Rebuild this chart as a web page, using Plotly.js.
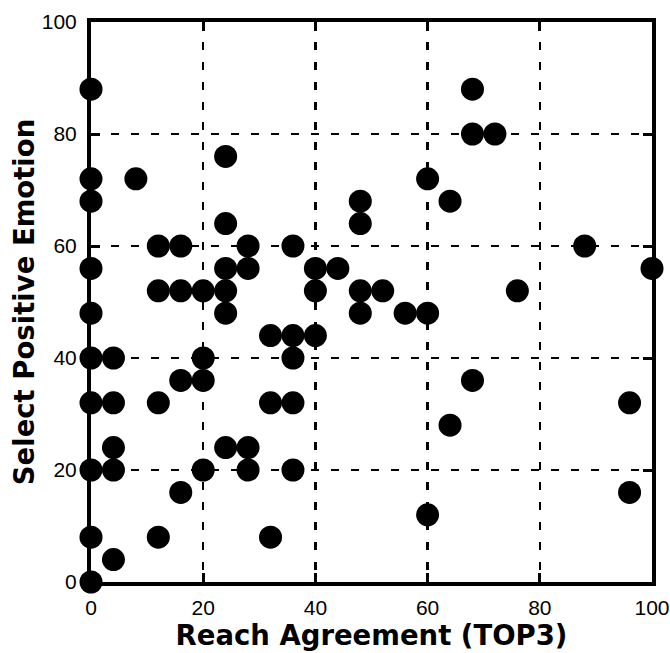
<!DOCTYPE html>
<html>
<head>
<meta charset="utf-8">
<script src="https://cdn.plot.ly/plotly-3.0.1.min.js"></script>
<style>html,body{margin:0;padding:0;background:#fff;}#chart{width:670px;height:653px;}</style>
</head>
<body>
<div id="chart"></div>
<script>
// Reach Agreement (TOP3) percentage for each item
var reachAgreement = [
  0, 0, 0, 0, 0, 0, 0, 0, 0, 0,
  4, 4, 4, 4, 4,
  8,
  12, 12, 12, 12,
  16, 16, 16, 16,
  20, 20, 20, 20,
  24, 24, 24, 24, 24, 24,
  28, 28, 28, 28,
  32, 32, 32,
  36, 36, 36, 36, 36,
  40, 40, 40,
  44,
  48, 48, 48, 48,
  52,
  56,
  60, 60, 60,
  64, 64,
  68, 68, 68,
  72,
  76,
  88,
  96, 96,
  100
];
// Select Positive Emotion percentage for each item
var positiveEmotion = [
  88, 72, 68, 56, 48, 40, 32, 20, 8, 0,
  40, 32, 24, 20, 4,
  72,
  60, 52, 32, 8,
  60, 52, 36, 16,
  52, 40, 36, 20,
  76, 64, 56, 52, 48, 24,
  60, 56, 24, 20,
  44, 32, 8,
  60, 44, 40, 32, 20,
  56, 52, 44,
  56,
  68, 64, 52, 48,
  52,
  48,
  72, 48, 12,
  68, 28,
  88, 80, 36,
  80,
  52,
  60,
  32, 16,
  56
];
var xTicks = [0, 20, 40, 60, 80, 100];
var yTicks = [0, 20, 40, 60, 80, 100];

var tickFont = {family: '"Liberation Sans Narrow", "Arial Narrow", "Liberation Sans", Arial, sans-serif', size: 21, color: '#000'};
var titleFont = {family: '"DejaVu Sans", sans-serif', size: 27.5, color: '#000', weight: 'bold'};

var axisCommon = {
  range: [0, 100],
  tickmode: 'array',
  showline: true,
  linecolor: '#000',
  linewidth: 4,
  mirror: 'ticks',
  ticks: 'inside',
  ticklen: 9,
  tickwidth: 3,
  tickcolor: '#000',
  showgrid: true,
  gridcolor: '#000',
  gridwidth: 2.5,
  griddash: '8px,12px',
  zeroline: false,
  tickfont: tickFont,
  ticklabeloverflow: 'allow',
  fixedrange: true
};

var trace = {
  type: 'scatter',
  mode: 'markers',
  x: reachAgreement,
  y: positiveEmotion,
  cliponaxis: false,
  marker: {size: 23, color: '#000', line: {width: 0}},
  hoverinfo: 'x+y'
};

var layout = {
  width: 670,
  height: 653,
  margin: {l: 91, r: 18, t: 22, b: 71, pad: 0},
  paper_bgcolor: '#fff',
  plot_bgcolor: '#fff',
  showlegend: false,
  xaxis: Object.assign({}, axisCommon, {
    tickvals: xTicks,
    ticktext: xTicks.map(String),
    ticklabelstandoff: 4,
    automargin: false,
    title: {text: 'Reach Agreement (TOP3)', font: titleFont, standoff: 1}
  }),
  yaxis: Object.assign({}, axisCommon, {
    tickvals: yTicks,
    ticktext: yTicks.map(String),
    ticklabelstandoff: 6,
    automargin: false,
    title: {text: 'Select Positive Emotion', font: titleFont, standoff: 0}
  })
};

Plotly.newPlot('chart', [trace], layout, {displayModeBar: false, staticPlot: true});
</script>
</body>
</html>
